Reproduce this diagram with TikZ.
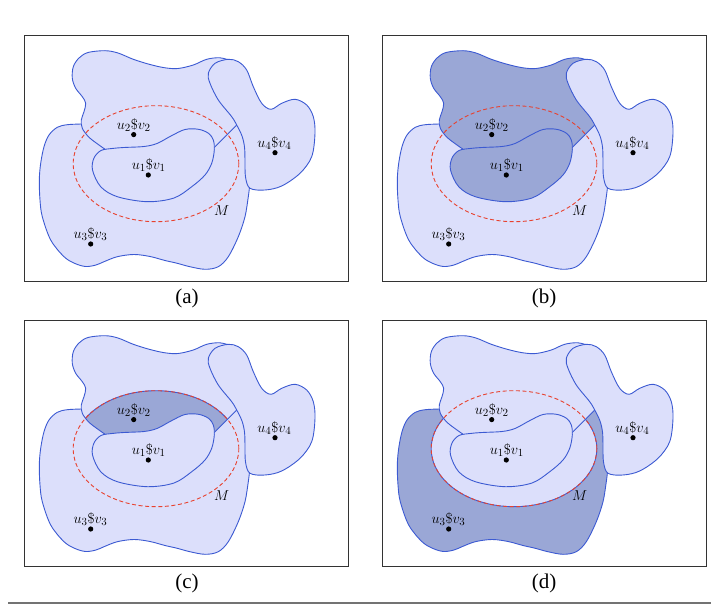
\documentclass[tikz,border=0pt]{standalone}
\usepackage{fontspec}
\newfontfamily\capfont{Liberation Serif}
\definecolor{lightfill}{RGB}{220,223,251}
\definecolor{darkfill}{RGB}{154,167,214}
\definecolor{edgeblue}{RGB}{60,90,210}
\definecolor{mred}{RGB}{232,65,46}
\tikzset{
  region/.style={draw=edgeblue, line width=0.9pt, line join=round},
  mell/.style={draw=mred, dash pattern=on 4pt off 2.6pt, line width=0.9pt},
  dotnode/.style={circle, fill=black, inner sep=0pt, minimum size=5.2pt},
  lbl/.style={anchor=base, inner sep=0pt, font=\fontsize{15}{18}\selectfont},
  mlbl/.style={inner sep=0pt, font=\fontsize{15}{18}\selectfont},
  panelframe/.style={draw=black!80, line width=1pt},
  caption/.style={anchor=base, inner sep=0pt, font=\capfont\fontsize{21}{24}\selectfont},
}
\def\pathA{plot[smooth, tension=0.55] coordinates {(104.7,149) (99,145) (89,137.3) (82.3,128.3) (81.3,120) (84,111.7) (85.7,103.3) (82.3,96.7) (75.7,88.3) (72.3,78.3) (73.3,66.7) (79,58) (88,52.5) (105,50.7) (118,53) (133.3,59.3) (150,64.5) (165,67.8) (178,68.5) (193.3,65) (206.7,59.3) (220,57.8) (232,61)} -- (242,100) -- (241,121) -- (236.7,125) -- (215,146.7) -- (211,152) -- (150,152) -- (108,154) -- cycle}
\def\pathB{plot[smooth cycle, tension=0.55] coordinates {(92.5,170) (94,158) (101,150.5) (112,148.5) (124,147.5) (144,146.5) (157,143.5) (171,136) (185,129.5) (198.5,129.3) (208.5,133.3) (213.3,140) (214.3,150) (211.7,163.3) (205,175) (192,186.5) (174,198) (147.3,201.7) (117.3,196.7) (100.7,186.7)}}
\def\pathC{plot[smooth, tension=0.55] coordinates {(82,124) (67.3,124.7) (57.3,127.3) (49,135) (44,146.7) (40.7,163.3) (39.3,180) (40,200) (42.3,216.7) (50.7,240) (64,256.7) (75,263.5) (85.7,266.5) (96,265) (104,261.7) (117.3,256.7) (134,254.5) (150,256.5) (165,260.5) (177.3,263.3) (189,266.5) (205,269.3) (218.3,266.7) (228.3,256.7) (238.3,236.7) (245,216.7) (248.3,196.7) (249.5,187)} -- (251,180) -- (250,150) -- (242,120) -- (200,118) -- (110,123) -- (85,122) -- cycle}
\def\pathD{plot[smooth cycle, tension=0.55] coordinates {(208.3,73.3) (215,63.3) (228.3,59.3) (238.3,61.7) (246.7,70) (253.3,86.7) (261.7,103.3) (271,109.3) (281.7,103.3) (295,99.3) (306.7,105) (313.3,116.7) (315,133.3) (311.7,156.7) (300,173.3) (281.7,186) (265,190) (250,188.3) (245.5,177) (245,160) (244.5,147) (242,136) (236.7,125) (231.7,116.7) (218.3,100) (210,83.3)}}
\def\pathM{(156,163.7) ellipse [x radius=82.8pt, y radius=58pt]}
\newcommand\panelmarks[1]{%
  \draw[mell] \pathM;
  \node[dotnode] (u1#1) at (148.3,175) {};
  \node[dotnode] (u2#1) at (133.7,134.6) {};
  \node[dotnode] (u3#1) at (90.7,244) {};
  \node[dotnode] (u4#1) at (275,152.7) {};
  \node[lbl] (l1#1) at (148.8,169.3) {$u_1\$v_1$};
  \node[lbl] (l2#1) at (133.7,129.6) {$u_2\$v_2$};
  \node[lbl] (l3#1) at (90.5,238.6) {$u_3\$v_3$};
  \node[lbl] (l4#1) at (274.3,147.4) {$u_4\$v_4$};
  \node[mlbl] (M#1) at (221.7,210.7) {$M$};
}
\begin{document}
\begin{tikzpicture}[x=1pt, y=-1pt]
\useasboundingbox (0,0) rectangle (711,609);
% (a)
\begin{scope}
  \draw[panelframe] (24,35.7) rectangle (348.3,281.7);
  \fill[lightfill, region] \pathC;
  \fill[lightfill, region] \pathA;
  \fill[lightfill, region] \pathB;
  \fill[lightfill, region] \pathD;
  \panelmarks{a}
  \node[caption] (capa) at (187,303.5) {(a)};
\end{scope}
% (b)
\begin{scope}[shift={(358,0)}]
  \draw[panelframe] (24,35.7) rectangle (348.3,281.7);
  \fill[lightfill, region] \pathC;
  \fill[darkfill, region] \pathA;
  \fill[darkfill, region] \pathB;
  \fill[lightfill, region] \pathD;
  \panelmarks{b}
  \node[caption] (capb) at (186,303.5) {(b)};
\end{scope}
% (c)
\begin{scope}[shift={(0,285)}]
  \draw[panelframe] (24,35.7) rectangle (348.3,281.7);
  \fill[lightfill, region] \pathC;
  \fill[lightfill] \pathA;
  \begin{scope}
    \clip \pathA;
    \fill[darkfill, region] \pathM;
  \end{scope}
  \draw[region] \pathA;
  \fill[lightfill, region] \pathB;
  \fill[lightfill, region] \pathD;
  \panelmarks{c}
  \node[caption] (capc) at (187,303.5) {(c)};
\end{scope}
% (d)
\begin{scope}[shift={(358,285)}]
  \draw[panelframe] (24,35.7) rectangle (348.3,281.7);
  \fill[darkfill] \pathC;
  \begin{scope}
    \clip \pathC;
    \fill[lightfill, region] \pathM;
  \end{scope}
  \draw[region] \pathC;
  \fill[lightfill, region] \pathA;
  \fill[lightfill, region] \pathB;
  \fill[lightfill, region] \pathD;
  \panelmarks{d}
  \node[caption] (capd) at (186,303.5) {(d)};
\end{scope}
\coordinate (rulel) at (8,602.7);
\coordinate (ruler) at (711,602.7);
\draw[black!55, line width=2pt] (rulel) -- (ruler);
\end{tikzpicture}
\end{document}
